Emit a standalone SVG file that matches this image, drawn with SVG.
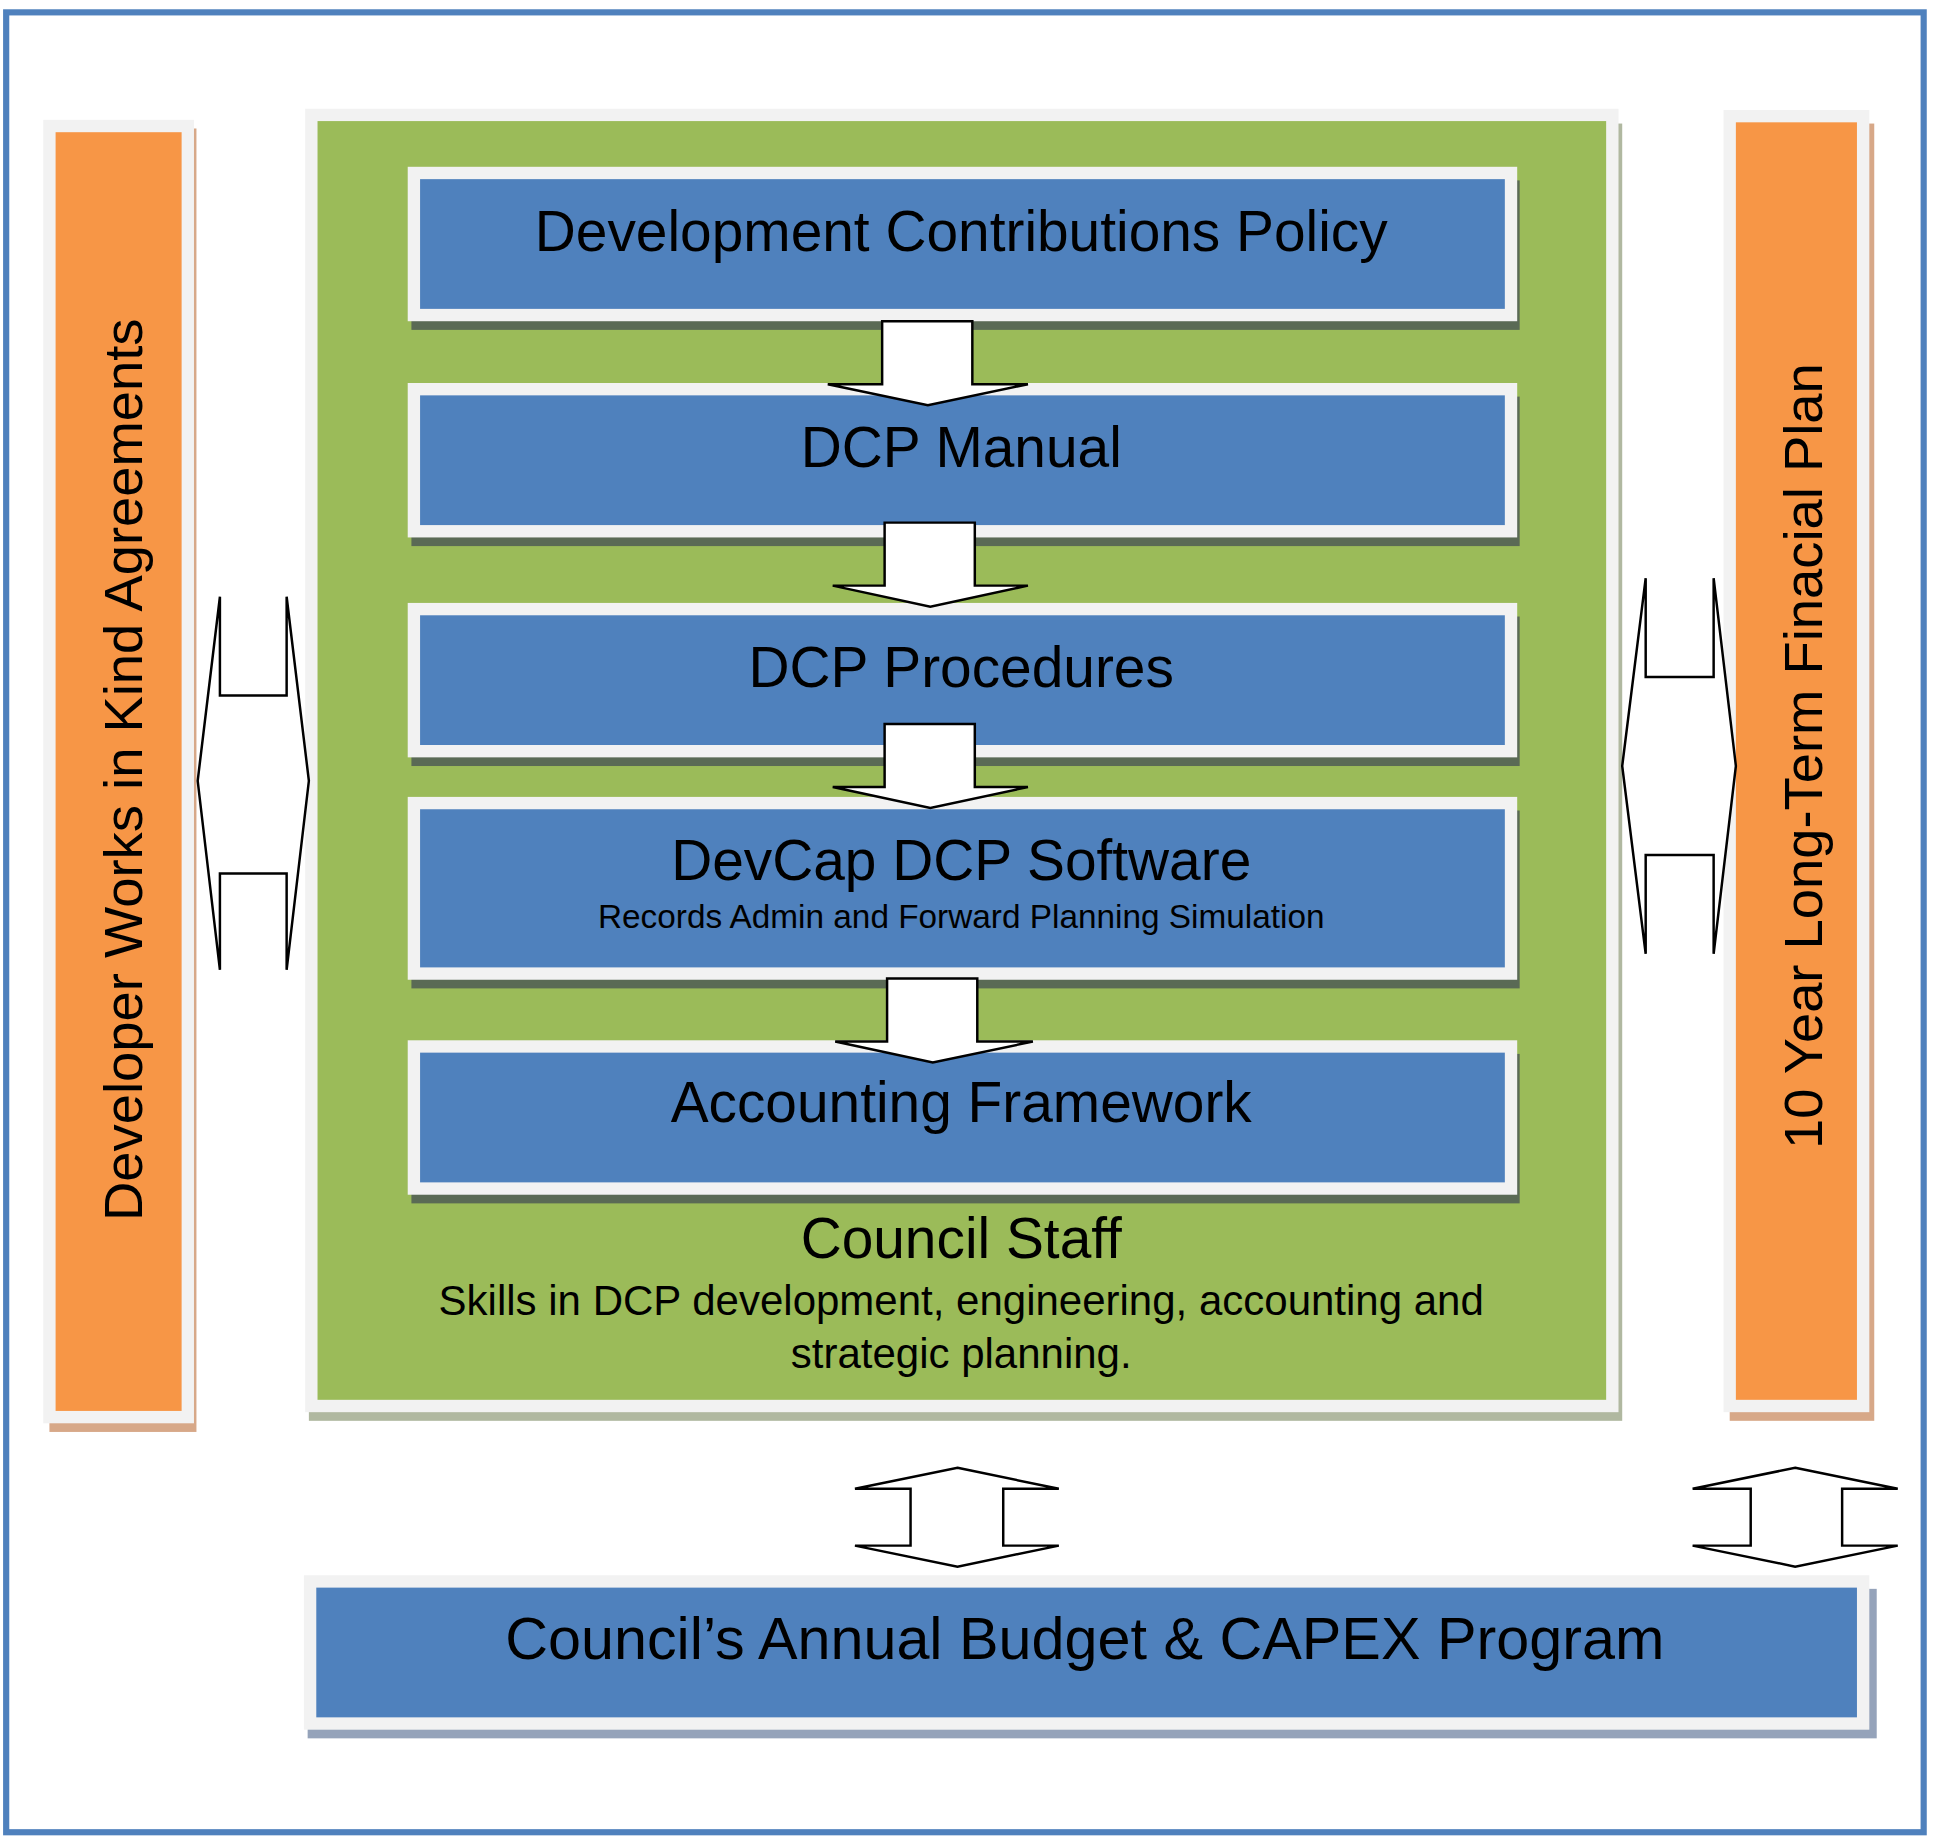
<svg xmlns="http://www.w3.org/2000/svg" width="1936" height="1841" viewBox="0 0 1936 1841">
<style>
text{font-family:"Liberation Sans",Arial,sans-serif;fill:#000;text-anchor:middle}
.blue{fill:#4F81BD;stroke:#F2F2F2;stroke-width:10}
.shb{fill:#5a6a55}
.t{font-size:46px}
.arr{fill:#fff;stroke:#000;stroke-width:2}
</style>
<rect width="1936" height="1841" fill="#fff"/>
<g transform="scale(1.2355)">
<rect x="5" y="10" width="1552" height="1473" fill="none" stroke="#4F81BD" stroke-width="5"/>
<g id="left">
<rect x="40" y="104" width="119" height="1055" fill="#D7A888"/>
<rect x="40" y="102" width="112" height="1045" fill="#F79646" stroke="#F2F2F2" stroke-width="10"/>
<text transform="translate(115,623) rotate(-90)" style="font-size:44px">Developer Works in Kind Agreements</text>
</g>
<g id="right">
<rect x="1400" y="100" width="117" height="1050" fill="#D7A888"/>
<rect x="1400" y="94" width="108" height="1044" fill="#F79646" stroke="#F2F2F2" stroke-width="10"/>
<text transform="translate(1475,612) rotate(-90)" style="font-size:44px">10 Year Long-Term Finacial Plan</text>
</g>
<g id="green">
<rect x="250" y="100" width="1063" height="1050" fill="#B0B8A0"/>
<rect x="252" y="93" width="1053" height="1045" fill="#9BBB59" stroke="#F2F2F2" stroke-width="10"/>
<text x="778" y="1018" class="t">Council Staff</text>
<text x="778" y="1064" style="font-size:34px">Skills in DCP development, engineering, accounting and</text>
<text x="778" y="1107" style="font-size:34px">strategic planning.</text>
</g>
<g id="b1"><rect x="333" y="146" width="897" height="121" class="shb"/><rect x="335" y="140" width="888" height="115" class="blue"/><text x="778" y="203" class="t">Development Contributions Policy</text></g>
<g id="b2"><rect x="333" y="321" width="897" height="121" class="shb"/><rect x="335" y="315" width="888" height="115" class="blue"/><text x="778" y="378" class="t">DCP Manual</text></g>
<g id="b3"><rect x="333" y="499" width="897" height="121" class="shb"/><rect x="335" y="493" width="888" height="115" class="blue"/><text x="778" y="556" class="t">DCP Procedures</text></g>
<g id="b4"><rect x="333" y="656" width="897" height="144" class="shb"/><rect x="335" y="650" width="888" height="138" class="blue"/><text x="778" y="712" class="t">DevCap DCP Software</text><text x="778" y="751" style="font-size:27px">Records Admin and Forward Planning Simulation</text></g>
<g id="b5"><rect x="333" y="853" width="897" height="121" class="shb"/><rect x="335" y="847" width="888" height="115" class="blue"/><text x="778" y="908" class="t">Accounting Framework</text></g>
<g id="b6"><rect x="249" y="1286" width="1270" height="121" fill="#95A3BA"/><rect x="251" y="1280" width="1257" height="115" class="blue"/><text x="878" y="1343" style="font-size:48px">Council’s Annual Budget &amp; CAPEX Program</text></g>
<g id="connectors">
<polygon class="arr" points="714,260 787,260 787,311 832,311 751,328 670,311 714,311"/>
<polygon class="arr" points="716,423 789,423 789,474 832,474 753,491 674,474 716,474"/>
<polygon class="arr" points="716,586 789,586 789,637 832,637 753,654 674,637 716,637"/>
<polygon class="arr" points="718,792 791,792 791,843 836,843 755,860 676,843 718,843"/>
<polygon class="arr" points="160,632 178,483 178,563 232,563 232,483 250,632 232,785 232,707 178,707 178,785"/>
<polygon class="arr" points="1313,620 1332,468 1332,548 1387,548 1387,468 1405,620 1387,772 1387,692 1332,692 1332,772"/>
<polygon class="arr" points="775,1188 857,1205 812,1205 812,1251 857,1251 775,1268 692,1251 737,1251 737,1205 692,1205"/>
<polygon class="arr" points="1453,1188 1536,1205 1491,1205 1491,1251 1536,1251 1453,1268 1370,1251 1417,1251 1417,1205 1370,1205"/>
</g>
</g>
</svg>
